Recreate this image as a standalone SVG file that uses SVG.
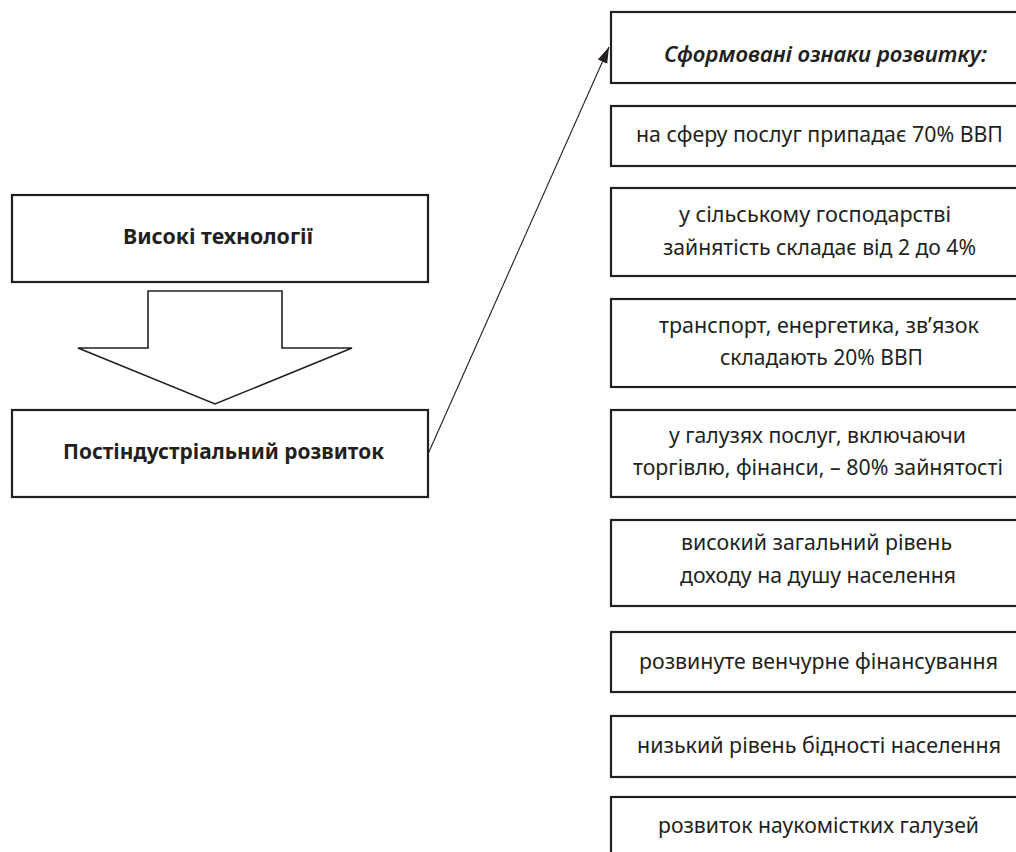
<svg xmlns="http://www.w3.org/2000/svg" width="1016" height="852" viewBox="0 0 1016 852">
<style>
.box{fill:#fff;stroke:#231f20;stroke-width:2.2}
.t{font-family:"Noto Sans","Open Sans","Liberation Sans",sans-serif;font-size:22px;fill:#231f20;text-anchor:middle}
.b{font-weight:700}
.i{font-style:italic;font-weight:600}
.conn{fill:none;stroke:#231f20;stroke-width:1.1}
</style>
<defs>
<marker id="ah" viewBox="0 0 10 10" refX="10" refY="5" markerWidth="16" markerHeight="16" markerUnits="userSpaceOnUse" orient="auto">
<path d="M0,1.8 L10,5 L0,8.2 z" fill="#231f20"/>
</marker>
</defs>
<rect width="1016" height="852" fill="#fff"/>
<g id="high-tech">
<rect class="box" x="12" y="195" width="416" height="87"/>
<text class="t b" x="218" y="244" textLength="190" lengthAdjust="spacingAndGlyphs">Високі технології</text>
</g>
<g id="big-arrow">
<polygon points="148,291 282,291 282,348 352,348 215,404 78,348 148,348" fill="#fff" stroke="#231f20" stroke-width="1.6"/>
</g>
<g id="postindustrial">
<rect class="box" x="12" y="410" width="416" height="87"/>
<text class="t b" x="223.5" y="459" textLength="321" lengthAdjust="spacingAndGlyphs">Постіндустріальний розвиток</text>
</g>
<g id="connectors">
<line class="conn" x1="428" y1="454" x2="609" y2="47" marker-end="url(#ah)"/>
</g>
<g id="header">
<rect class="box" x="611" y="12" width="420" height="71"/>
<text class="t i" x="825.5" y="62" textLength="323" lengthAdjust="spacingAndGlyphs">Сформовані ознаки розвитку:</text>
</g>
<g id="f1">
<rect class="box" x="611" y="106" width="420" height="60"/>
<text class="t" x="819.5" y="142" textLength="367" lengthAdjust="spacingAndGlyphs">на сферу послуг припадає 70% ВВП</text>
</g>
<g id="f2">
<rect class="box" x="611" y="188" width="420" height="88"/>
<text class="t" x="815" y="222" textLength="272" lengthAdjust="spacingAndGlyphs">у сільському господарстві</text>
<text class="t" x="819.5" y="255" textLength="313" lengthAdjust="spacingAndGlyphs">зайнятість складає від 2 до 4%</text>
</g>
<g id="f3">
<rect class="box" x="611" y="299" width="420" height="88"/>
<text class="t" x="819" y="333" textLength="320" lengthAdjust="spacingAndGlyphs">транспорт, енергетика, зв’язок</text>
<text class="t" x="821.5" y="365" textLength="203" lengthAdjust="spacingAndGlyphs">складають 20% ВВП</text>
</g>
<g id="f4">
<rect class="box" x="611" y="410" width="420" height="87"/>
<text class="t" x="817.5" y="443" textLength="297" lengthAdjust="spacingAndGlyphs">у галузях послуг, включаючи</text>
<text class="t" x="818" y="475" textLength="370" lengthAdjust="spacingAndGlyphs">торгівлю, фінанси, – 80% зайнятості</text>
</g>
<g id="f5">
<rect class="box" x="611" y="520" width="420" height="86"/>
<text class="t" x="816.5" y="550" textLength="271" lengthAdjust="spacingAndGlyphs">високий загальний рівень</text>
<text class="t" x="818" y="583" textLength="276" lengthAdjust="spacingAndGlyphs">доходу на душу населення</text>
</g>
<g id="f6">
<rect class="box" x="611" y="632" width="420" height="60"/>
<text class="t" x="818.5" y="669" textLength="359" lengthAdjust="spacingAndGlyphs">розвинуте венчурне фінансування</text>
</g>
<g id="f7">
<rect class="box" x="611" y="716" width="420" height="61"/>
<text class="t" x="819" y="753" textLength="364" lengthAdjust="spacingAndGlyphs">низький рівень бідності населення</text>
</g>
<g id="f8">
<rect class="box" x="611" y="797" width="420" height="80"/>
<text class="t" x="818.5" y="833" textLength="321" lengthAdjust="spacingAndGlyphs">розвиток наукомістких галузей</text>
</g>
</svg>
